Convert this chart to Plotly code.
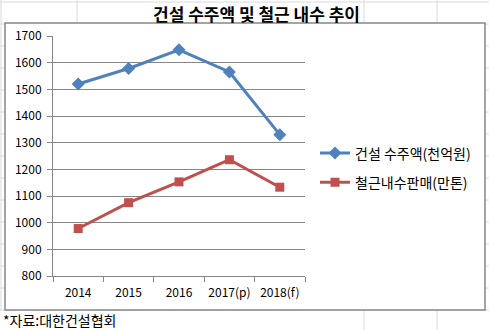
import plotly.graph_objects as go

# Data
years = ["2014", "2015", "2016", "2017(p)", "2018(f)"]
orders = [1520, 1578, 1648, 1565, 1330]        # 건설 수주액 (천억원)
rebar = [978, 1075, 1153, 1236, 1133]          # 철근 내수판매 (만톤)
y_ticks = [800, 900, 1000, 1100, 1200, 1300, 1400, 1500, 1600, 1700]

W, H = 489, 330
FONT = "Noto Sans CJK KR, Malgun Gothic, sans-serif"
BLUE = "#4F81BD"
RED = "#C0504D"
GRID = "#868686"
SHEET = "#DADADA"


def px(x):
    return x / W


def py(y):
    return 1 - y / H


fig = go.Figure()

fig.add_trace(go.Scatter(
    x=years, y=orders, name="건설 수주액(천억원)", legendgroup="a",
    mode="lines+markers",
    line=dict(color=BLUE, width=3),
    marker=dict(symbol="diamond", size=10, color=BLUE),
))
fig.add_trace(go.Scatter(
    x=years, y=rebar, name="철근내수판매(만톤)", legendgroup="b",
    mode="lines+markers",
    line=dict(color=RED, width=3),
    marker=dict(symbol="square", size=9, color=RED),
))

shapes = []
# spreadsheet cell lines behind the chart
for yy in range(2, 331, 22):
    shapes.append(dict(type="line", xref="paper", yref="paper",
                       x0=0, x1=1, y0=py(yy), y1=py(yy),
                       line=dict(color=SHEET, width=1), layer="below"))
for xx in [1, 77, 364, 437]:
    shapes.append(dict(type="line", xref="paper", yref="paper",
                       x0=px(xx), x1=px(xx), y0=0, y1=1,
                       line=dict(color=SHEET, width=1), layer="below"))
# chart frame
shapes.append(dict(type="rect", xref="paper", yref="paper",
                   x0=px(5), x1=px(485), y0=py(310), y1=py(23),
                   fillcolor="white", line=dict(color=GRID, width=1.5),
                   layer="below"))
# caption strip
shapes.append(dict(type="rect", xref="paper", yref="paper",
                   x0=0, x1=px(150), y0=py(330), y1=py(311),
                   fillcolor="white", line=dict(width=0), layer="below"))

fig.update_layout(
    width=W, height=H,
    margin=dict(l=0, r=0, t=0, b=0, autoexpand=False),
    paper_bgcolor="white",
    plot_bgcolor="rgba(0,0,0,0)",
    font=dict(family=FONT, size=12, color="black"),
    shapes=shapes,
    showlegend=True,
    legend=dict(x=px(315), y=py(168), xanchor="left", yanchor="middle",
                font=dict(family=FONT, size=14, color="black"),
                bgcolor="rgba(0,0,0,0)", tracegroupgap=8,
                itemwidth=30),
    annotations=[
        dict(text="<b>건설 수주액 및 철근 내수 추이</b>", xref="paper", yref="paper",
             x=px(256), y=py(13), xanchor="center", yanchor="middle",
             showarrow=False, font=dict(family=FONT, size=17, color="black")),
        dict(text="*자료:대한건설협회", xref="paper", yref="paper",
             x=px(1), y=py(320), xanchor="left", yanchor="middle",
             showarrow=False, font=dict(family=FONT, size=14, color="black")),
    ],
    xaxis=dict(
        domain=[px(53), px(305)],
        type="category", automargin=False,
        range=[-0.5, len(years) - 0.5], autorange=False,
        showgrid=False, showline=True, linecolor=GRID, linewidth=1,
        ticks="outside", tickson="boundaries", ticklen=5, tickcolor=GRID,
        tickangle=0, tickfont=dict(size=12), ticklabelstandoff=6,
    ),
    yaxis=dict(
        domain=[py(276), py(36)], automargin=False,
        range=[800, 1700], tickvals=y_ticks,
        showgrid=True, gridcolor=GRID, gridwidth=1,
        showline=True, linecolor=GRID, linewidth=1,
        ticks="outside", ticklen=5, tickcolor=GRID,
        tickfont=dict(size=12), zeroline=False, ticklabelstandoff=3,
    ),
)

fig.write_html("out.html")
